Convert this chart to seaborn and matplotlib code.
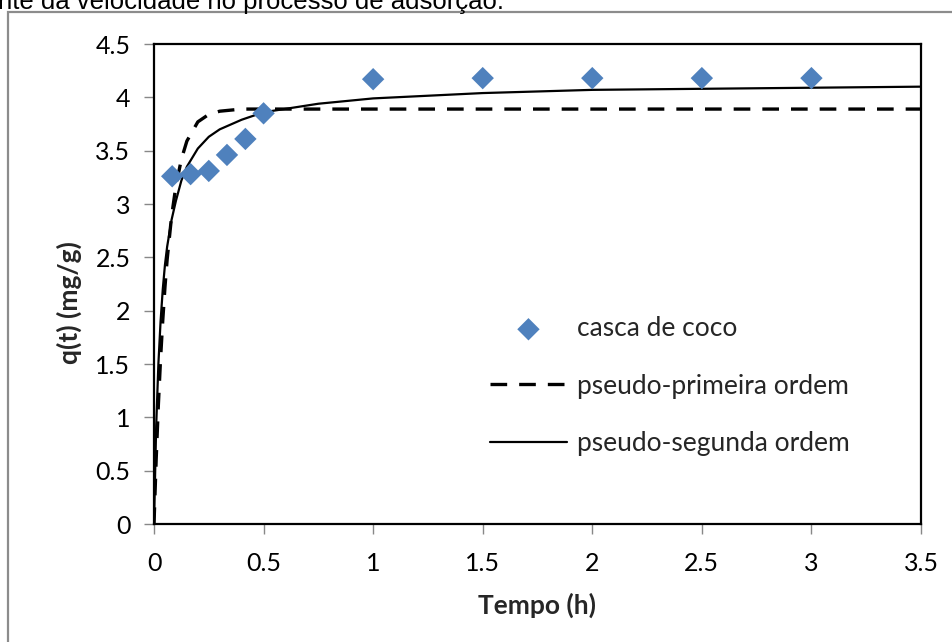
import matplotlib
matplotlib.use("Agg")
import matplotlib.pyplot as plt
from matplotlib.patches import Rectangle
import seaborn as sns
import pandas as pd

# ---- data ----
t_exp = [0.083, 0.167, 0.25, 0.333, 0.417, 0.5, 1.0, 1.5, 2.0, 2.5, 3.0]
q_exp = [3.26, 3.28, 3.31, 3.46, 3.61, 3.85, 4.17, 4.18, 4.18, 4.18, 4.18]

t_model = [0, 0.01, 0.02, 0.03, 0.04, 0.05, 0.06, 0.08, 0.1, 0.125, 0.15, 0.2, 0.25,
           0.3, 0.4, 0.5, 0.75, 1.0, 1.5, 2.0, 2.5, 3.0, 3.5]
q_pfo = [0, 0.61, 1.12, 1.55, 1.91, 2.22, 2.48, 2.88, 3.17, 3.42, 3.59, 3.77, 3.84,
         3.87, 3.89, 3.89, 3.89, 3.89, 3.89, 3.89, 3.89, 3.89, 3.89]
q_pso = [0, 0.92, 1.50, 1.90, 2.20, 2.43, 2.60, 2.85, 3.03, 3.22, 3.35, 3.52, 3.63,
         3.70, 3.79, 3.86, 3.94, 3.99, 4.04, 4.07, 4.08, 4.09, 4.10]

x_ticks = [0, 0.5, 1, 1.5, 2, 2.5, 3, 3.5]
x_tick_labels = ["0", "0.5", "1", "1.5", "2", "2.5", "3", "3.5"]
y_ticks = [0, 0.5, 1, 1.5, 2, 2.5, 3, 3.5, 4, 4.5]
y_tick_labels = ["0", "0.5", "1", "1.5", "2", "2.5", "3", "3.5", "4", "4.5"]

labels = ["casca de coco", "pseudo-primeira ordem", "pseudo-segunda ordem"]
caption = "nte da velocidade no processo de adsorção."

sns.set_style("white")
plt.rcParams["font.family"] = ["Lato", "DejaVu Sans"]

W, H = 953, 642
fig = plt.figure(figsize=(W / 100, H / 100), dpi=100)
ax = fig.add_axes([154 / W, 1 - 524 / H, 767 / W, 480 / H])

df_exp = pd.DataFrame({"t": t_exp, "q": q_exp})
df_mod = pd.DataFrame({"t": t_model, "pfo": q_pfo, "pso": q_pso})

sns.lineplot(data=df_mod, x="t", y="pfo", ax=ax, color="black", lw=2.4,
             linestyle=(0, (5.0, 3.6)), estimator=None, sort=False,
             label=labels[1], zorder=3)
sns.lineplot(data=df_mod, x="t", y="pso", ax=ax, color="black", lw=1.6,
             estimator=None, sort=False, label=labels[2], zorder=3)
sns.scatterplot(data=df_exp, x="t", y="q", ax=ax, marker="D", s=130,
                color="#4F81BD", edgecolor="none", label=labels[0], zorder=4)

ax.set_xlim(0, 3.5)
ax.set_ylim(0, 4.5)
ax.set_xticks(x_ticks)
ax.set_xticklabels(x_tick_labels)
ax.set_yticks(y_ticks)
ax.set_yticklabels(y_tick_labels)
ax.tick_params(axis="both", direction="out", length=7, width=1, color="#888888",
               labelsize=18, labelcolor="black", left=True, bottom=True)
ax.tick_params(axis="x", pad=13)
ax.tick_params(axis="y", pad=10)
for sp in ax.spines.values():
    sp.set_color("black")
    sp.set_linewidth(1.6)
    sp.set_visible(True)

ax.set_xlabel("Tempo (h)", fontsize=19, fontweight="bold")
ax.set_ylabel("q(t) (mg/g)", fontsize=19, fontweight="bold")
ax.xaxis.set_label_coords(537 / W, 1 - 593 / H, transform=fig.transFigure)
ax.yaxis.set_label_coords(82 / W, 1 - 303 / H, transform=fig.transFigure)

h, l = ax.get_legend_handles_labels()
order = [l.index(x) for x in labels]
leg = ax.legend([h[i] for i in order], [l[i] for i in order],
                loc="upper left", bbox_to_anchor=(477 / W, 1 - 303 / H),
                bbox_transform=fig.transFigure, frameon=False, fontsize=19,
                handlelength=2.9, handletextpad=0.38, labelspacing=1.23,
                borderpad=0)

# outer gray frame
fig.patches.append(Rectangle((8 / W, -0.1), 1.2, 1 - 12 / H + 0.1,
                             transform=fig.transFigure, fill=False,
                             edgecolor="#8c8c8c", lw=1.6, zorder=0))
fig.text(-2 / W, 1 - 9 / H, caption, fontsize=18.5, family="Liberation Sans",
         ha="left", va="baseline", color="black")

fig.savefig("out.png", dpi=100)
